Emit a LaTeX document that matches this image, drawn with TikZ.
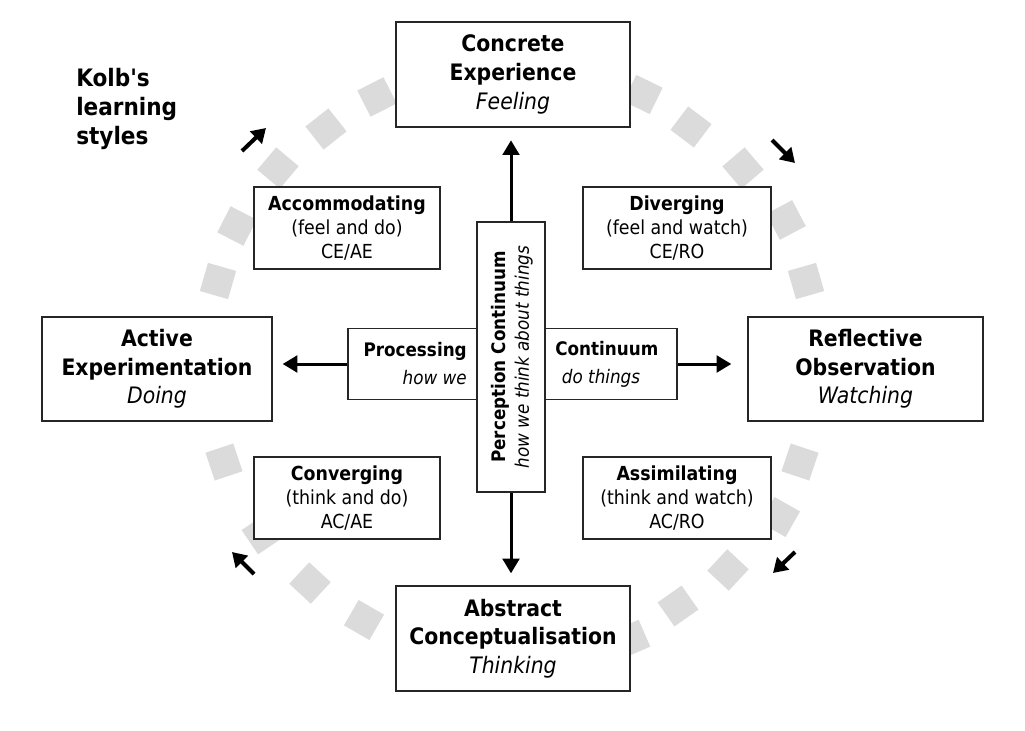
\documentclass[tikz,border=0pt]{standalone}
\usepackage{fontspec}
\setmainfont{DejaVuSansCondensed}[Extension=.ttf, BoldFont=*-Bold, ItalicFont=*-Oblique, BoldItalicFont=*-BoldOblique]
\newfontfamily\titlefont{DejaVuSansCondensed-Bold}[Extension=.ttf]
\usetikzlibrary{arrows.meta}
\tikzset{
  bigbox/.style={draw=black!85, line width=1pt, fill=white, inner sep=0pt, align=center,
    font=\fontsize{17}{21.5}\selectfont},
  smallbox/.style={draw=black!85, line width=1pt, fill=white, inner sep=0pt, align=center,
    font=\fontsize{14.5}{17.7}\selectfont},
  sq/.style={rectangle, fill=black!14, draw=none, inner sep=0pt, minimum size=22pt},
  bigarr/.style={line width=2.25pt, -{Triangle[length=11pt,width=12.5pt]}},
  smallarr/.style={line width=3pt, -{Triangle[length=10.5pt,width=12.5pt]}},
}
\begin{document}
\begin{tikzpicture}[x=0.75pt,y=-0.75pt]
\useasboundingbox (0,0) rectangle (1025,731);
% ring of grey squares
\foreach \x/\y/\r [count=\i] in {643/94.5/64, 691/127/53, 743/168/40.5, 786/220/28, 806/281/16,
    813/341/4.5, 812/402/-7, 800/462/-18.6, 780/517/-29.5, 728/570/-43, 678/606/-55, 631/639/-66.5,
    364/620/239.9, 310/583/227.2, 262/534/214, 224/462/198.6, 211/402/187, 212/341/175.5,
    218/281/164, 237/226/153, 278/168/140, 326/129/128.3, 377/97/116.8}{
  \node[sq, rotate=\r] (sq\i) at (\x,\y) {};
}
% title
\node[anchor=base west, align=left, inner sep=0pt, font=\fontsize{18}{22}\titlefont] (title) at (76,145)
  {Kolb's\\learning\\styles};
% big boxes
\node[bigbox, minimum width=175.5pt, minimum height=78.75pt] (ce) at (513,74.5)
  {\textbf{Concrete}\\\textbf{Experience}\\\textit{Feeling}};
\node[bigbox, minimum width=172.5pt, minimum height=78pt] (ae) at (157,369)
  {\textbf{Active}\\\textbf{Experimentation}\\\textit{Doing}};
\node[bigbox, minimum width=176.25pt, minimum height=78pt] (ro) at (865.5,369)
  {\textbf{Reflective}\\\textbf{Observation}\\\textit{Watching}};
\node[bigbox, minimum width=175.5pt, minimum height=78.75pt] (ac) at (513,638.5)
  {\textbf{Abstract}\\\textbf{Conceptualisation}\\\textit{Thinking}};
% small boxes
\node[smallbox, minimum width=139.5pt, minimum height=61.5pt] (acc) at (347,228)
  {\textbf{Accommodating}\\(feel and do)\\CE/AE};
\node[smallbox, minimum width=141pt, minimum height=61.5pt] (div) at (677,228)
  {\textbf{Diverging}\\(feel and watch)\\CE/RO};
\node[smallbox, minimum width=139.5pt, minimum height=61.5pt] (conv) at (347,498)
  {\textbf{Converging}\\(think and do)\\AC/AE};
\node[smallbox, minimum width=141pt, minimum height=61.5pt] (assim) at (677,498)
  {\textbf{Assimilating}\\(think and watch)\\AC/RO};
% central boxes
\node[draw=black!85, line width=1pt, fill=white, minimum width=246.75pt, minimum height=53.25pt, inner sep=0pt] (hbox) at (512.5,364) {};
\node[anchor=east, align=right, inner sep=0pt, font=\fontsize{14}{21}\selectfont] (proc) at (467,364)
  {\textbf{Processing}\\\textit{how we}};
\node[anchor=west, align=left, inner sep=0pt, font=\fontsize{14}{21}\selectfont] (cont) at (555,364)
  {\textbf{Continuum}\\\hspace*{5pt}\textit{do things}};
\node[draw=black!85, line width=1pt, fill=white, minimum width=51pt, minimum height=202.5pt, inner sep=0pt] (perc) at (511,357) {};
\node[rotate=90, align=center, inner sep=0pt, font=\fontsize{14}{17.5}\selectfont] (perctext) at (512,357)
  {\textbf{Perception Continuum}\\\textit{how we think about things}};
% main arrows
\draw[bigarr, shorten >=9.5pt] (perc.north) -- (perc.north |- ce.south);
\draw[bigarr, shorten >=9pt] (perc.south) -- (perc.south |- ac.north);
\draw[bigarr, shorten >=7.5pt] (hbox.west) -- (hbox.west -| ae.east);
\draw[bigarr, shorten >=12pt] (hbox.east) -- (hbox.east -| ro.west);
% small cycle arrows
\coordinate (a1s) at (242,151); \coordinate (a1e) at (266,128);
\coordinate (a2s) at (772,140); \coordinate (a2e) at (795,163);
\coordinate (a3s) at (795,552); \coordinate (a3e) at (773,573);
\coordinate (a4s) at (254,574); \coordinate (a4e) at (232,552);
\draw[smallarr] (a1s) -- (a1e);
\draw[smallarr] (a2s) -- (a2e);
\draw[smallarr] (a3s) -- (a3e);
\draw[smallarr] (a4s) -- (a4e);
\end{tikzpicture}
\end{document}
